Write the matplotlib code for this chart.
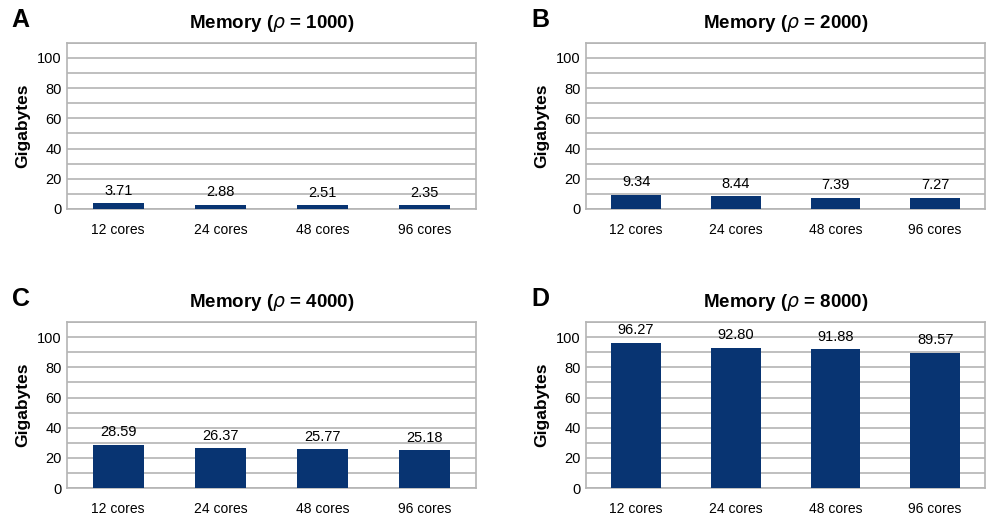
import matplotlib
matplotlib.use("Agg")
import matplotlib.pyplot as plt
import numpy as np

plt.rcParams['font.family'] = ['Liberation Sans', 'DejaVu Sans']
plt.rcParams['mathtext.fontset'] = 'dejavusans'

cores = ["12 cores", "24 cores", "48 cores", "96 cores"]
rho = [1000, 2000, 4000, 8000]
letters = ["A", "B", "C", "D"]
mem_1000 = [3.71, 2.88, 2.51, 2.35]
mem_2000 = [9.34, 8.44, 7.39, 7.27]
mem_4000 = [28.59, 26.37, 25.77, 25.18]
mem_8000 = [96.27, 92.80, 91.88, 89.57]
series = [mem_1000, mem_2000, mem_4000, mem_8000]

bar_color = '#083472'
grid_color = '#b4b4b4'

fig = plt.figure(figsize=(9.87, 5.17), dpi=100)

# axes boxes in figure fractions: left, bottom, width, height
boxes = [
    [0.068, 0.596, 0.414, 0.321],
    [0.594, 0.596, 0.404, 0.321],
    [0.068, 0.056, 0.414, 0.321],
    [0.594, 0.056, 0.404, 0.321],
]

for i in range(4):
    ax = fig.add_axes(boxes[i])
    x = np.arange(len(cores))
    vals = series[i]
    ax.set_xlim(-0.5, 3.5)
    ax.set_ylim(0, 110)
    ax.set_yticks(np.arange(0, 101, 20))
    ax.set_yticks(np.arange(0, 111, 10), minor=True)
    ax.yaxis.grid(True, which='both', color=grid_color, linewidth=1.2)
    ax.set_axisbelow(True)
    ax.bar(x, vals, width=0.5, color=bar_color, zorder=3)
    for xi, v in zip(x, vals):
        ax.annotate("%.2f" % v, (xi, v), xytext=(0, 4), textcoords='offset points',
                    ha='center', va='bottom', fontsize=10.5, zorder=4)
    ax.set_xticks(x)
    ax.set_xticklabels(cores, fontsize=10)
    ax.tick_params(axis='x', length=0, pad=10)
    ax.tick_params(axis='y', which='both', length=0, pad=4, labelsize=10.5)
    for s in ax.spines.values():
        s.set_color(grid_color)
        s.set_linewidth(1.2)
    ax.set_ylabel("Gigabytes", fontsize=12.5, fontweight='bold', labelpad=5)
    ax.set_title("Memory ($\\rho$ = %d)" % rho[i], fontsize=13.5, fontweight='bold', pad=11)
    fig.text(boxes[i][0] - 0.056, boxes[i][1] + boxes[i][3] + 0.045, letters[i],
             fontsize=18, fontweight='bold', ha='left', va='center')

fig.savefig("out.png", dpi=100)
